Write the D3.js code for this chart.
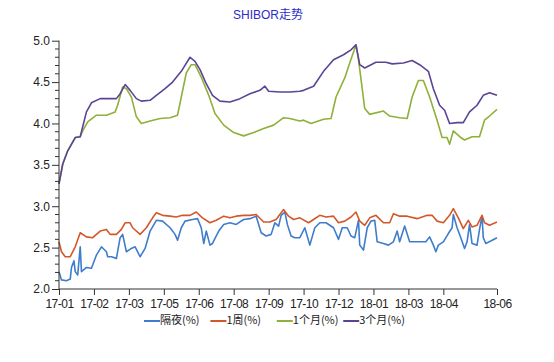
<!DOCTYPE html>
<html>
<head>
<meta charset="utf-8">
<script src="https://cdn.jsdelivr.net/npm/d3@7/dist/d3.min.js"></script>
<style>
  html, body { margin: 0; padding: 0; background: #fff; }
  svg { display: block; }
  text { font-family: "Liberation Sans", "Noto Sans CJK SC", sans-serif; }
</style>
</head>
<body>
<svg id="chart" width="554" height="362"></svg>
<script>
// ---------------- DATA ----------------
const title = "SHIBOR走势";
const seriesNames = ["隔夜(%)", "1周(%)", "1个月(%)", "3个月(%)"];
const seriesColors = ["#3f7dcc", "#d4572a", "#8fb03a", "#5b4496"];

// x ticks: trading-day index and label
const xTickDays   = [0, 28, 56, 84, 112, 140, 168, 196, 224, 252, 280, 308, 351];
const xTickLabels = ["17-01","17-02","17-03","17-05","17-06","17-08","17-09","17-10","17-12","18-01","18-03","18-04","18-06"];
const lastDay = 351;

const yTickValues = [2.0, 2.5, 3.0, 3.5, 4.0, 4.5, 5.0];

// [trading-day index, rate %]
const overnight = [[0,2.21],[2,2.11],[6,2.10],[9,2.12],[10,2.26],[12,2.34],[13,2.21],[15,2.17],[17,2.51],[18,2.21],
  [22,2.26],[26,2.25],[30,2.41],[34,2.51],[38,2.45],[39,2.39],[42,2.39],[46,2.37],[49,2.62],[51,2.66],
  [54,2.45],[58,2.49],[61,2.51],[65,2.39],[69,2.49],[73,2.70],[78,2.83],[83,2.82],[89,2.74],[93,2.66],
  [95,2.59],[98,2.74],[101,2.82],[107,2.84],[111,2.85],[114,2.74],[116,2.55],[118,2.70],[121,2.53],[123,2.55],
  [128,2.70],[132,2.78],[137,2.80],[142,2.78],[148,2.84],[153,2.85],[158,2.88],[162,2.68],[166,2.64],[170,2.66],
  [173,2.80],[176,2.76],[178,2.89],[181,2.93],[183,2.78],[186,2.64],[189,2.62],[193,2.62],[197,2.74],[201,2.53],
  [205,2.74],[209,2.80],[214,2.80],[220,2.74],[224,2.60],[227,2.74],[231,2.74],[234,2.64],[237,2.62],[240,2.83],
  [241,2.53],[244,2.47],[247,2.74],[250,2.82],[253,2.83],[255,2.57],[260,2.55],[264,2.53],[268,2.57],[271,2.70],
  [273,2.57],[277,2.76],[281,2.57],[287,2.57],[294,2.57],[297,2.63],[300,2.53],[302,2.45],[304,2.53],[308,2.57],
  [312,2.67],[315,2.74],[316,2.90],[319,2.74],[322,2.62],[325,2.49],[327,2.57],[329,2.78],[331,2.55],[335,2.53],
  [337,2.72],[339,2.88],[340,2.62],[342,2.55],[346,2.58],[351,2.62]];

const oneWeek = [[0,2.57],[2,2.45],[5,2.39],[9,2.39],[13,2.51],[17,2.68],[22,2.63],[27,2.62],[33,2.70],[38,2.72],
  [41,2.66],[46,2.66],[50,2.72],[53,2.80],[57,2.80],[59,2.74],[65,2.66],[70,2.74],[75,2.86],[78,2.92],
  [83,2.89],[89,2.88],[94,2.87],[99,2.89],[105,2.89],[110,2.93],[115,2.86],[121,2.80],[126,2.83],[132,2.88],
  [137,2.86],[142,2.88],[148,2.89],[153,2.89],[158,2.90],[164,2.81],[169,2.81],[174,2.84],[180,2.96],[184,2.88],
  [188,2.84],[193,2.86],[200,2.80],[204,2.84],[209,2.89],[214,2.87],[220,2.88],[224,2.80],[229,2.82],[234,2.87],
  [238,2.93],[241,2.82],[245,2.77],[249,2.86],[254,2.89],[260,2.80],[265,2.80],[268,2.91],[273,2.88],[279,2.88],
  [287,2.85],[295,2.89],[299,2.89],[303,2.82],[308,2.80],[313,2.89],[316,2.97],[320,2.86],[324,2.73],[328,2.83],
  [331,2.75],[335,2.77],[339,2.89],[341,2.80],[345,2.77],[351,2.81]];

const oneMonth = [[0,3.27],[3,3.51],[7,3.67],[13,3.83],[17,3.84],[19,3.91],[23,4.02],[30,4.10],[38,4.10],[45,4.14],
  [47,4.22],[51,4.44],[54,4.42],[58,4.32],[62,4.08],[66,4.00],[73,4.03],[81,4.06],[89,4.07],[95,4.10],
  [98,4.32],[102,4.61],[106,4.71],[109,4.71],[114,4.56],[120,4.34],[125,4.12],[132,3.98],[140,3.89],[148,3.85],
  [156,3.89],[164,3.94],[172,3.98],[180,4.07],[185,4.06],[193,4.03],[196,4.04],[202,4.00],[212,4.05],[218,4.06],
  [222,4.32],[229,4.55],[233,4.73],[238,4.95],[240,4.77],[243,4.42],[245,4.18],[249,4.11],[260,4.15],[265,4.09],
  [273,4.07],[279,4.06],[283,4.32],[288,4.52],[292,4.52],[297,4.32],[303,4.04],[307,3.83],[311,3.83],[313,3.75],
  [316,3.91],[322,3.83],[325,3.80],[331,3.84],[337,3.84],[341,4.04],[345,4.09],[351,4.17]];

const threeMonth = [[0,3.27],[3,3.51],[7,3.67],[13,3.83],[17,3.84],[19,3.96],[22,4.14],[26,4.25],[33,4.30],[46,4.30],
  [49,4.36],[53,4.47],[57,4.40],[62,4.30],[66,4.27],[73,4.28],[78,4.34],[85,4.42],[91,4.50],[98,4.63],
  [105,4.80],[109,4.75],[113,4.65],[118,4.48],[123,4.34],[129,4.27],[137,4.26],[145,4.30],[153,4.36],[161,4.40],
  [165,4.45],[168,4.39],[177,4.38],[185,4.38],[193,4.39],[196,4.40],[204,4.45],[212,4.63],[220,4.77],[228,4.83],
  [234,4.89],[238,4.95],[241,4.71],[245,4.67],[254,4.74],[262,4.74],[267,4.72],[276,4.73],[283,4.76],[289,4.71],
  [296,4.63],[300,4.42],[305,4.22],[309,4.16],[313,4.00],[319,4.01],[324,4.01],[329,4.14],[335,4.22],[340,4.34],
  [345,4.37],[351,4.34]];

const allSeries = [overnight, oneWeek, oneMonth, threeMonth];

// ---------------- CHART ----------------
const svg = d3.select("#chart");
const x = d3.scaleLinear().domain([0, lastDay]).range([59, 497]);
const y = d3.scaleLinear().domain([2, 5]).range([289, 40.7]);
const axisColor = "#333";

// title
svg.append("text")
  .attr("x", 268).attr("y", 16)
  .attr("text-anchor", "middle").attr("dominant-baseline", "middle")
  .attr("fill", "#2c2ccc")
  .style("font-size", "12px")
  .style("font-family", "'Liberation Sans', 'Noto Sans CJK SC', sans-serif")
  .text(title);

// lines
const line = d3.line().x(d => x(d[0])).y(d => y(d[1]));
allSeries.forEach((s, i) => {
  svg.append("path")
    .datum(s)
    .attr("fill", "none")
    .attr("stroke", seriesColors[i])
    .attr("stroke-width", 1.6)
    .attr("stroke-linejoin", "round")
    .attr("d", line);
});

// y axis (major)
const yAxis = d3.axisLeft(y)
  .tickValues(yTickValues)
  .tickFormat(d3.format(".1f"))
  .tickSize(7).tickPadding(2);
const yg = svg.append("g").attr("transform", `translate(${x(0)},0)`).call(yAxis);
yg.select(".domain").attr("stroke", axisColor).attr("d", `M0,${y(5)}V${y(2)}`);
yg.selectAll(".tick line").attr("stroke", axisColor);
yg.selectAll(".tick text").attr("fill", "#222").style("font-size", "12px");

// y minor ticks
const minorVals = d3.range(20, 51).map(v => v / 10).filter(v => Math.round(v * 10) % 5 !== 0);
svg.append("g").selectAll("line").data(minorVals).join("line")
  .attr("x1", x(0) - 4).attr("x2", x(0))
  .attr("y1", d => y(d)).attr("y2", d => y(d))
  .attr("stroke", axisColor);

// x axis
const xAxis = d3.axisBottom(x)
  .tickValues(xTickDays)
  .tickFormat((d, i) => xTickLabels[i])
  .tickSize(6).tickPadding(4);
const xg = svg.append("g").attr("transform", `translate(0,${y(2)})`).call(xAxis);
xg.select(".domain").attr("stroke", axisColor).attr("d", `M${x(0)},0H${x(lastDay)}`);
xg.selectAll(".tick line").attr("stroke", axisColor);
xg.selectAll(".tick text").attr("fill", "#222").style("font-size", "12px").style("letter-spacing", "-0.5px");

// legend
const legend = svg.append("g");
seriesNames.forEach((name, i) => {
  const lx = 144 + i * 66.4;
  const ly = 321;
  legend.append("line")
    .attr("x1", lx).attr("x2", lx + 16)
    .attr("y1", ly).attr("y2", ly)
    .attr("stroke", seriesColors[i]).attr("stroke-width", 2);
  legend.append("text")
    .attr("x", lx + 16).attr("y", ly)
    .attr("dominant-baseline", "middle")
    .attr("fill", "#222")
    .style("font-size", "11px")
    .style("font-family", "'Noto Sans CJK SC', 'Liberation Sans', sans-serif")
    .text(name);
});
</script>
</body>
</html>
